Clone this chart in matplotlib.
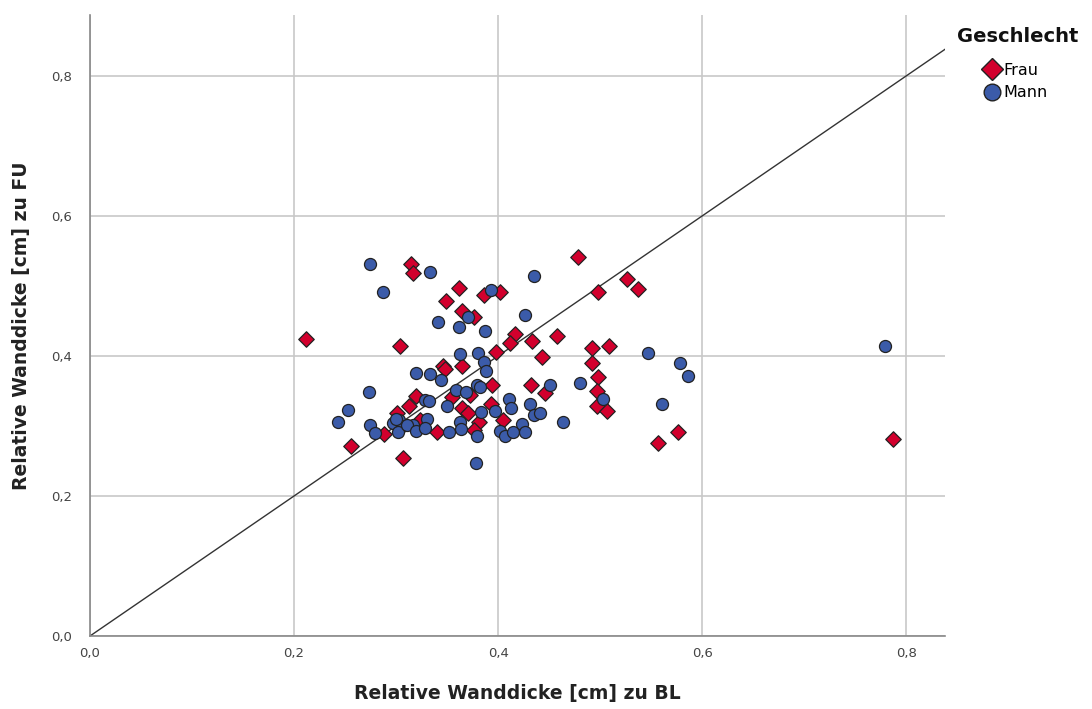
import matplotlib
matplotlib.use('agg')
import matplotlib.pyplot as plt
from matplotlib.lines import Line2D
from matplotlib.ticker import FuncFormatter

# Frau (diamonds): relative wall thickness BL vs FU
frau_bl = [0.212, 0.256, 0.288, 0.307, 0.315, 0.317, 0.362, 0.349, 0.386, 0.402,
           0.365, 0.376, 0.304, 0.417, 0.412, 0.433, 0.458, 0.443, 0.398, 0.346,
           0.348, 0.365, 0.394, 0.372, 0.355, 0.320, 0.313, 0.365, 0.370, 0.393,
           0.432, 0.446, 0.405, 0.381, 0.376, 0.340, 0.301, 0.323, 0.478, 0.498,
           0.526, 0.537, 0.492, 0.509, 0.492, 0.498, 0.497, 0.497, 0.507, 0.576,
           0.557, 0.787]
frau_fu = [0.424, 0.272, 0.288, 0.254, 0.531, 0.518, 0.497, 0.478, 0.487, 0.491,
           0.464, 0.456, 0.414, 0.432, 0.419, 0.421, 0.428, 0.399, 0.406, 0.386,
           0.382, 0.385, 0.359, 0.344, 0.341, 0.343, 0.328, 0.325, 0.318, 0.332,
           0.359, 0.347, 0.309, 0.306, 0.294, 0.291, 0.318, 0.309, 0.542, 0.492,
           0.510, 0.495, 0.412, 0.414, 0.390, 0.370, 0.350, 0.329, 0.322, 0.292,
           0.276, 0.281]

# Mann (circles)
mann_bl = [0.274, 0.287, 0.333, 0.435, 0.393, 0.370, 0.341, 0.362, 0.387, 0.426,
           0.363, 0.380, 0.386, 0.388, 0.320, 0.333, 0.344, 0.379, 0.382, 0.359,
           0.369, 0.328, 0.332, 0.350, 0.411, 0.413, 0.431, 0.451, 0.397, 0.383,
           0.435, 0.441, 0.464, 0.363, 0.364, 0.379, 0.352, 0.402, 0.407, 0.415,
           0.423, 0.426, 0.378, 0.273, 0.253, 0.243, 0.274, 0.279, 0.303, 0.297,
           0.306, 0.302, 0.330, 0.317, 0.311, 0.320, 0.328, 0.300, 0.480, 0.547,
           0.578, 0.586, 0.503, 0.561, 0.779]
mann_fu = [0.531, 0.491, 0.520, 0.514, 0.494, 0.456, 0.448, 0.442, 0.436, 0.458,
           0.403, 0.404, 0.392, 0.378, 0.375, 0.374, 0.366, 0.358, 0.355, 0.351,
           0.348, 0.337, 0.335, 0.329, 0.338, 0.325, 0.332, 0.358, 0.321, 0.320,
           0.315, 0.318, 0.305, 0.306, 0.296, 0.285, 0.292, 0.293, 0.285, 0.291,
           0.303, 0.291, 0.247, 0.348, 0.323, 0.305, 0.302, 0.290, 0.309, 0.304,
           0.300, 0.292, 0.310, 0.301, 0.301, 0.293, 0.297, 0.310, 0.361, 0.404,
           0.390, 0.371, 0.338, 0.332, 0.414]

ticks = [0.0, 0.2, 0.4, 0.6, 0.8]

red = '#d2002d'
blue = '#3b5ba9'

fig = plt.figure(figsize=(10.92, 7.09), dpi=100)
ax = fig.add_axes([90 / 1092, 73 / 709, 855 / 1092, 621 / 709])

ax.set_xlim(0, 0.838)
ax.set_ylim(0, 0.887)
ax.set_xticks(ticks)
ax.set_yticks(ticks)
fmt = FuncFormatter(lambda v, p: ('%.1f' % v).replace('.', ','))
ax.xaxis.set_major_formatter(fmt)
ax.yaxis.set_major_formatter(fmt)
ax.grid(True, color='#c8c8c8', linewidth=1.2, zorder=0)
ax.set_axisbelow(True)

for s in ['top', 'right']:
    ax.spines[s].set_visible(False)
for s in ['left', 'bottom']:
    ax.spines[s].set_color('#888888')
    ax.spines[s].set_linewidth(1.2)
ax.tick_params(length=0, labelsize=9.5, colors='#444444')
ax.tick_params(axis='x', pad=8)
ax.tick_params(axis='y', pad=13)

# reference line y = x
ax.plot([0, 0.838], [0, 0.838], color='#333333', linewidth=1.0, zorder=2)

ax.scatter(frau_bl, frau_fu, marker='D', s=62, color=red, edgecolor='#222222',
           linewidth=0.9, zorder=3)
ax.scatter(mann_bl, mann_fu, marker='o', s=75, color=blue, edgecolor='#222222',
           linewidth=0.9, zorder=3)

ax.set_xlabel('Relative Wanddicke [cm] zu BL', fontsize=13.5, fontweight='bold',
              labelpad=17, color='#222222')
ax.set_ylabel('Relative Wanddicke [cm] zu FU', fontsize=13.5, fontweight='bold',
              labelpad=14, color='#222222')

# legend: title drawn as text, entries indented below it
fig.text(957 / 1092, 1 - 37 / 709, 'Geschlecht', fontsize=14, fontweight='bold',
         va='center', ha='left', color='#111111')
handles = [Line2D([], [], marker='D', linestyle='none', markersize=11,
                  markerfacecolor=red, markeredgecolor='#222222', label='Frau'),
           Line2D([], [], marker='o', linestyle='none', markersize=12,
                  markerfacecolor=blue, markeredgecolor='#222222', label='Mann')]
fig.legend(handles=handles, loc='upper left',
           bbox_to_anchor=(982 / 1092, 1 - 63 / 709), frameon=False,
           fontsize=11.5, handletextpad=0.05, labelspacing=0.45,
           borderaxespad=0, borderpad=0, handlelength=1.3)

fig.savefig('out.png', dpi=100)
